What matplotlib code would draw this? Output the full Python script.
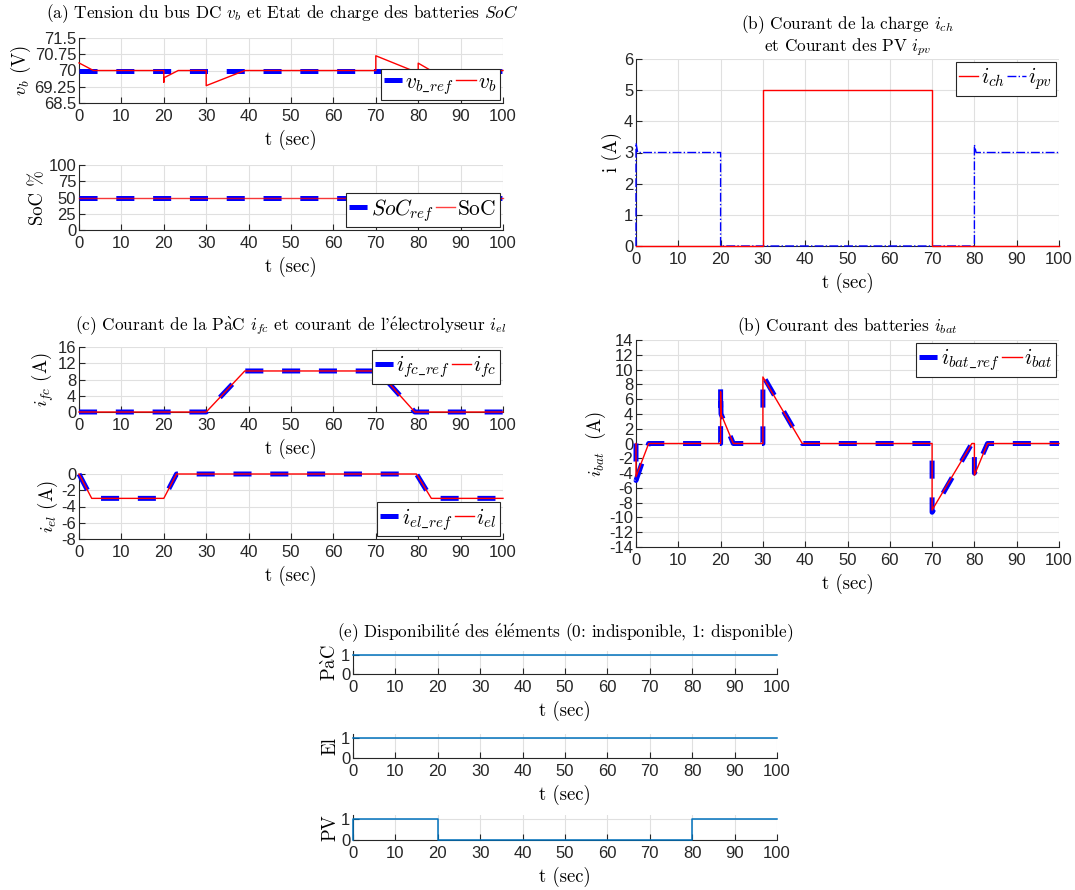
#!/usr/bin/env python3

import matplotlib
matplotlib.use("Agg")
import matplotlib.pyplot as plt

# ----------------------------
# Data
# ----------------------------
# (a) DC bus voltage
vb_ref_t = [0, 100]
vb_ref = [70, 70]
vb_t = [0, 3.4, 20, 20, 20.1, 23.4, 30, 30, 39.1, 70, 70, 78.6, 80, 80, 83, 100]
vb = [70.35, 70, 70, 69.45, 69.67, 70, 70, 69.3, 70, 70, 70.68, 70, 70, 70.34, 70, 70]

# (a) state of charge
soc_t = [0, 100]
soc_ref = [50, 50]
soc = [50, 50]

# (b) load current and PV current
ich_t = [0, 30, 30, 70, 70, 100]
ich = [0, 0, 5, 5, 0, 0]
ipv_t = [0, 0, 0.4, 20, 20, 80, 80, 80.4, 100]
ipv = [0, 3.3, 3.0, 3.0, 0, 0, 3.25, 3.0, 3.0]

# (c) fuel cell current and electrolyser current
ifc_t = [0, 30, 39.1, 70.5, 79.2, 100]
ifc = [0, 0, 10.1, 10.1, 0, 0]
ifc_ref = [0, 0, 10.1, 10.1, 0, 0]
iel_t = [0, 3.0, 20, 23, 79.6, 83.1, 100]
iel = [0, -3, -3, 0, 0, -3, -3]
iel_ref = [0, -3, -3, 0, 0, -3, -3]

# (d) battery current
ibat_t = [0, 0, 3.0, 20, 20, 20.1, 23, 30, 30, 39.3, 70, 70, 79.4, 80, 80, 83.1, 100]
ibat = [0, -4.5, 0, 0, 7.0, 4.0, 0, 0, 9.0, 0, 0, -9.0, 0, 0, -4.3, 0, 0]
ibat_ref = [0, -5.0, 0, 0, 7.8, 4.0, 0, 0, 9.2, 0, 0, -9.3, 0, 0, -4.0, 0, 0]

# (e) availability of the elements
pac_t = [0, 100]
pac = [1, 1]
el_t = [0, 100]
el = [1, 1]
pv_t = [0, 0, 20, 20, 80, 80, 100]
pv = [0, 1, 1, 0, 0, 1, 1]

xticks = list(range(0, 101, 10))

# ----------------------------
# Style
# ----------------------------
W, H = 1075, 890
plt.rcParams["mathtext.fontset"] = "cm"
plt.rcParams["axes.unicode_minus"] = False
plt.rcParams["lines.scale_dashes"] = False
tick_font = "Liberation Sans"
text_font = ["cmr10", "DejaVu Serif"]
dark = "#262626"
blue = "#0000ff"
red = "#ff0000"
mblue = "#0072bd"
ref_dash = (13, 13.5)

# accented letters written with mathtext accents (cmr10 has no é / à)
A_GRAVE = r"$\grave{\mathrm{a}}$"
E_ACUTE = r"$\acute{\mathrm{e}}$"


def add_ax(fig, left, top, right, bottom):
    return fig.add_axes([left / W, 1 - bottom / H, (right - left) / W, (bottom - top) / H])


def style(ax, yticks, ylabels, ylim, ylabel, xlabel="t (sec)"):
    ax.set_xlim(0, 100)
    ax.set_ylim(*ylim)
    ax.set_xticks(xticks)
    ax.set_xticklabels([str(v) for v in xticks], fontfamily=tick_font, fontsize=12, color=dark)
    ax.set_yticks(yticks)
    ax.set_yticklabels(ylabels, fontfamily=tick_font, fontsize=12, color=dark)
    ax.tick_params(direction="in", length=4, width=0.8, color=dark)
    ax.tick_params(axis="x", pad=4)
    ax.tick_params(axis="y", pad=2)
    ax.grid(True, color="#e0e0e0", linewidth=0.8)
    ax.set_axisbelow(True)
    for s in ["top", "right"]:
        ax.spines[s].set_visible(False)
    for s in ["left", "bottom"]:
        ax.spines[s].set_color(dark)
        ax.spines[s].set_linewidth(0.8)
    ax.set_xlabel(xlabel, fontfamily=text_font, fontsize=13.5, labelpad=4.5)
    ax.set_ylabel(ylabel, fontfamily=text_font, fontsize=13.5, labelpad=1)


def legend(ax, loc):
    lg = ax.legend(loc=loc, ncol=2, fontsize=15.5, handlelength=0.9, handletextpad=0.1,
                   columnspacing=0.1, borderpad=0.15, borderaxespad=0.15,
                   fancybox=False, framealpha=1, edgecolor=dark)
    lg.get_frame().set_linewidth(0.8)
    return lg


def ref_line(ax, t, v, label):
    ax.plot(t, v, color=blue, lw=3.6, dashes=ref_dash, label=label, zorder=3, clip_on=False)


def meas_line(ax, t, v, label, **kw):
    ax.plot(t, v, color=red, lw=1.0, label=label, zorder=3.1, clip_on=False, **kw)


fig = plt.figure(figsize=(W / 100, H / 100), dpi=100)

# (a) top
ax = add_ax(fig, 79, 38, 503, 103)
ref_line(ax, vb_ref_t, vb_ref, r"$v_{b\_ref}$")
meas_line(ax, vb_t, vb, r"$v_b$")
style(ax, [68.5, 69.25, 70, 70.75, 71.5], ["68.5", "69.25", "70", "70.75", "71.5"],
      (68.5, 71.5), r"$v_b$ (V)")
ax.set_title(r"(a) Tension du bus DC $v_b$ et Etat de charge des batteries $SoC$",
             fontfamily=text_font, fontsize=12.4, pad=14, x=0.48)
legend(ax, "lower right")

# (a) bottom
ax = add_ax(fig, 79, 165, 503, 230)
ref_line(ax, soc_t, soc_ref, r"$SoC_{ref}$")
meas_line(ax, soc_t, soc, r"$\mathrm{SoC}$", alpha=0.75)
style(ax, [0, 25, 50, 75, 100], ["0", "25", "50", "75", "100"], (0, 100), "SoC %")
legend(ax, "lower right")

# (b) load / PV current
ax = add_ax(fig, 636, 59, 1059, 246)
meas_line(ax, ich_t, ich, r"$i_{ch}$")
ax.plot(ipv_t, ipv, color=blue, lw=1.0, linestyle="-.", label=r"$i_{pv}$", zorder=3, clip_on=False)
style(ax, list(range(0, 7)), [str(v) for v in range(0, 7)], (0, 6), "i (A)")
ax.set_title("(b) Courant de la charge $i_{ch}$\net Courant des PV $i_{pv}$",
             fontfamily=text_font, fontsize=12.4, pad=6, linespacing=1.0)
legend(ax, "upper right")

# (c) top
ax = add_ax(fig, 79, 347, 503, 412)
ref_line(ax, ifc_t, ifc_ref, r"$i_{fc\_ref}$")
meas_line(ax, ifc_t, ifc, r"$i_{fc}$")
style(ax, [0, 4, 8, 12, 16], ["0", "4", "8", "12", "16"], (0, 16), r"$i_{fc}$ (A)")
ax.set_title("(c) Courant de la P" + A_GRAVE + "C $i_{fc}$ et courant de l'" + E_ACUTE
             + "lectrolyseur $i_{el}$", fontfamily=text_font, fontsize=12.4, pad=12)
legend(ax, "upper right")

# (c) bottom
ax = add_ax(fig, 79, 474, 503, 539)
ref_line(ax, iel_t, iel_ref, r"$i_{el\_ref}$")
meas_line(ax, iel_t, iel, r"$i_{el}$")
style(ax, [-8, -6, -4, -2, 0], ["-8", "-6", "-4", "-2", "0"], (-8, 0), r"$i_{el}$ (A)")
legend(ax, "lower right")

# (d) battery current
ax = add_ax(fig, 636, 340, 1059, 547)
ref_line(ax, ibat_t, ibat_ref, r"$i_{bat\_ref}$")
meas_line(ax, ibat_t, ibat, r"$i_{bat}$")
ib_ticks = list(range(-14, 15, 2))
style(ax, ib_ticks, [str(v) for v in ib_ticks], (-14, 14), r"$i_{bat}$  (A)")
ax.set_title(r"(b) Courant des batteries $i_{bat}$", fontfamily=text_font, fontsize=12.4, pad=6)
legend(ax, "upper right")

# (e) availability
panels = [(pac_t, pac, "P" + A_GRAVE + "C", 651, 674), (el_t, el, "El", 734, 758),
          (pv_t, pv, "PV", 815, 840)]
for i, (t, v, name, top, bottom) in enumerate(panels):
    ax = add_ax(fig, 353, top, 777, bottom)
    ax.plot(t, v, color=mblue, lw=1.1, zorder=3, clip_on=False)
    style(ax, [0, 1], ["0", "1"], (0, 1.2), name)
    if i == 0:
        ax.set_title("(e) Disponibilit" + E_ACUTE + " des " + E_ACUTE + "l" + E_ACUTE
                     + "ments (0: indisponible, 1: disponible)",
                     fontfamily=text_font, fontsize=12.4, pad=10)

fig.savefig("out.png", dpi=100)
